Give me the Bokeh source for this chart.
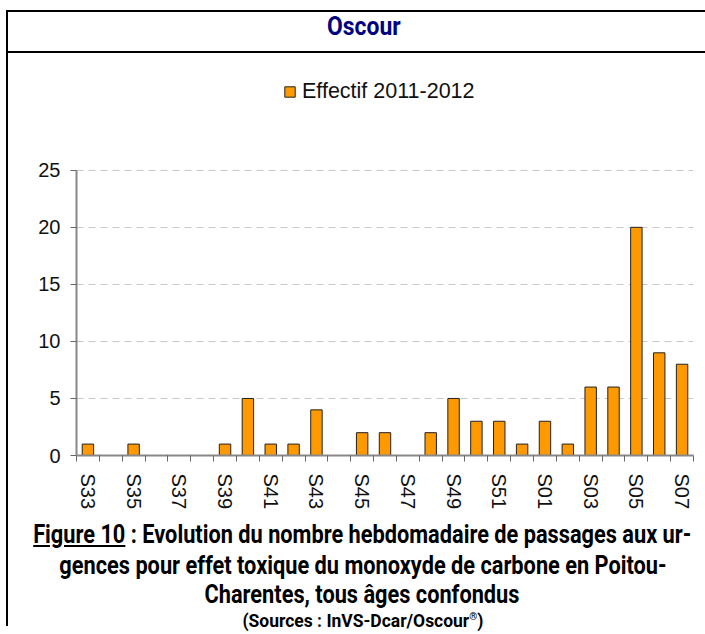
from bokeh.plotting import figure
from bokeh.models import Range1d, FixedTicker, Legend, LegendItem, Div
from bokeh.layouts import row, column
from bokeh.embed import file_html
from bokeh.resources import INLINE

# ---- data ----
weeks = ["S33", "S34", "S35", "S36", "S37", "S38", "S39", "S40", "S41", "S42",
         "S43", "S44", "S45", "S46", "S47", "S48", "S49", "S50", "S51", "S52",
         "S01", "S02", "S03", "S04", "S05", "S06", "S07"]
counts = [1, 0, 1, 0, 0, 0, 1, 5, 1, 1,
          4, 0, 2, 2, 0, 2, 5, 3, 3, 1,
          3, 1, 6, 6, 20, 9, 8]
y_ticks = [0, 5, 10, 15, 20, 25]
y_view_max = 34.8          # visible range above the axis, room for the legend
title_text = "Oscour"
legend_label = "Effectif 2011-2012"
caption_label = "Figure 10"
caption_lines = [" : Evolution du nombre hebdomadaire de passages aux ur-",
                 "gences pour effet toxique du monoxyde de carbone en Poitou-",
                 "Charentes, tous âges confondus"]
source_text = "(Sources : InVS-Dcar/Oscour"

idx = list(range(len(weeks)))
label_idx = idx[::2]

W = 697

# ---- figure ----
p = figure(width=W, height=460, output_backend="svg", toolbar_location=None,
           x_range=Range1d(-0.5, len(weeks) - 0.5),
           y_range=Range1d(0, y_view_max),
           min_border_left=68, min_border_right=12, min_border_top=5,
           min_border_bottom=58, margin=0)
p.outline_line_color = None
p.background_fill_color = "white"
p.border_fill_color = "white"

r = p.vbar(x=idx, top=counts, width=0.5, fill_color="#FF9900",
           line_color="#222222", line_width=1)

ax = p.xaxis[0]
ax.ticker = FixedTicker(ticks=label_idx,
                        minor_ticks=[i - 0.5 for i in range(len(weeks) + 1)])
ax.major_label_overrides = {i: weeks[i] for i in label_idx}
ax.major_label_orientation = "vertical"
ax.major_tick_out = 0
ax.major_tick_in = 0
ax.minor_tick_out = 6
ax.minor_tick_in = 0
ax.minor_tick_line_color = "#666666"
ax.minor_tick_line_width = 1
ax.axis_line_color = "#888888"
ax.axis_line_width = 2
ax.major_label_standoff = 12
ax.major_label_text_font = "Liberation Sans"
ax.major_label_text_font_size = "20px"
ax.major_label_text_color = "#111111"

ay = p.yaxis[0]
ay.ticker = FixedTicker(ticks=y_ticks, minor_ticks=[])
ay.bounds = (y_ticks[0], y_ticks[-1])
ay.major_tick_out = 6
ay.major_tick_in = 0
ay.major_tick_line_color = "#666666"
ay.major_tick_line_width = 1
ay.axis_line_color = "#888888"
ay.axis_line_width = 2
ay.major_label_standoff = 10
ay.major_label_text_font = "Liberation Sans"
ay.major_label_text_font_size = "20px"
ay.major_label_text_color = "#111111"

p.xgrid.visible = False
p.ygrid.ticker = FixedTicker(ticks=y_ticks[1:])
p.ygrid.grid_line_color = "#C8C8C8"
p.ygrid.grid_line_dash = "7 5"
p.ygrid.grid_line_width = 1

legend = Legend(items=[LegendItem(label=legend_label, renderers=[r])],
                location=(207, 351), orientation="horizontal",
                padding=0, margin=0, border_line_color=None,
                background_fill_alpha=0, glyph_width=13, glyph_height=13,
                label_standoff=6, label_text_font="Liberation Sans",
                label_text_font_size="21.5px", label_text_color="#111111")
p.add_layout(legend)

# ---- header and caption ----
FONT = "Roboto, 'Noto Sans', sans-serif"

header_html = (
    f'<div style="position:relative;width:{W}px;height:53px;">'
    f'<div style="position:absolute;left:0;top:10px;width:{W}px;height:43px;'
    'box-sizing:border-box;border-top:2px solid #000;border-bottom:2px solid #000;"></div>'
    f'<div style="position:absolute;left:0;top:13px;width:{W}px;height:26px;'
    'line-height:26px;display:flex;justify-content:center;">'
    f'<span style="display:inline-block;white-space:nowrap;font-family:{FONT};'
    'font-weight:700;font-size:26px;color:#000080;'
    f'transform:translateX(7px) scaleX(0.88);">{title_text}</span></div></div>'
)
header = Div(text=header_html, width=W, height=53, margin=0)


def line_div(top, size, content, scale=0.87):
    return (f'<div style="position:absolute;left:0;top:{top}px;width:{W}px;'
            f'height:{size}px;line-height:{size}px;display:flex;justify-content:center;">'
            f'<span style="display:inline-block;white-space:nowrap;font-family:{FONT};'
            f'font-weight:700;font-size:{size}px;color:#000;'
            f'transform:translateX(6px) scaleX({scale});">{content}</span></div>')


CAP_H = 113
caption_html = (
    f'<div style="position:relative;width:{W}px;height:{CAP_H}px;">'
    + line_div(9, 25, f'<u>{caption_label}</u>{caption_lines[0]}')
    + line_div(40, 25, caption_lines[1])
    + line_div(69, 25, caption_lines[2])
    + line_div(94, 19, source_text + '<sup style="font-size:11px;">®</sup>)', 0.92)
    + '</div>'
)
caption = Div(text=caption_html, width=W, height=CAP_H, margin=0)

TOTAL_H = 53 + 460 + CAP_H
vline = Div(text=f'<div style="margin-top:10px;margin-left:6px;width:2px;'
                 f'height:{TOTAL_H - 10}px;background:#000;"></div>',
            width=8, height=TOTAL_H, margin=0)

layout = row(vline, column(header, p, caption, spacing=0, margin=0),
             spacing=0, margin=0)

open("out.html", "w", encoding="utf-8").write(file_html(layout, INLINE))
